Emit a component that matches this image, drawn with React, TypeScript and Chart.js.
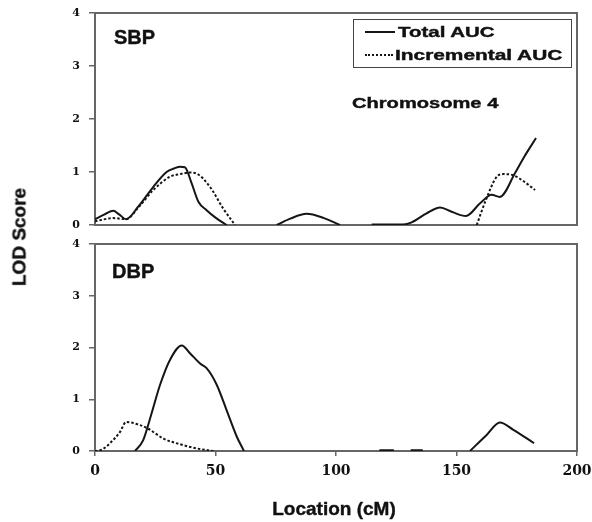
import React, { useEffect, useRef } from "react";
import { Chart, registerables } from "chart.js";

Chart.register(...registerables);

// ---- data: LOD score along chromosome 4 (location in cM) ----
// SBP panel
const sbpTotalCM = [0, 4, 7.6, 10, 12.9, 18, 24.2, 29.7, 33, 35.3, 37.3, 40, 42.9, 46.3, 50, 54.6, 64, 75.4, 81, 87.8, 95, 101.7, 108, 114.8, 127.9, 131.4, 137.6, 143.2, 148, 153.9, 159.8, 164.6, 168, 174.3, 178, 183];
const sbpTotalLOD = [0.11, 0.2, 0.27, 0.2, 0.11, 0.35, 0.72, 1.0, 1.07, 1.1, 1.09, 0.8, 0.44, 0.28, 0.14, 0, null, 0, 0.12, 0.21, 0.13, 0, null, 0.01, 0.01, 0.05, 0.22, 0.33, 0.25, 0.17, 0.41, 0.57, 0.53, 0.98, 1.28, 1.64];
const sbpIncrCM = [0, 7.6, 12.9, 18, 24.2, 31.1, 35.3, 39.4, 42.2, 47.7, 53.2, 58.1, 100, 158.4, 162, 166.7, 169.4, 173.5, 178, 182.6];
const sbpIncrLOD = [0.07, 0.13, 0.11, 0.33, 0.66, 0.91, 0.96, 0.99, 0.97, 0.72, 0.31, 0, null, 0, 0.45, 0.91, 0.96, 0.94, 0.82, 0.66];

// DBP panel
const dbpTotalCM = [16.6, 20, 23.5, 27, 31.1, 36, 39.4, 43.6, 46.3, 50.5, 54.6, 58.8, 61.8, 90, 118, 124, 128, 131, 136, 146, 155.6, 162.5, 168, 173.6, 182.2];
const dbpTotalLOD = [0, 0.21, 0.73, 1.28, 1.76, 2.04, 1.89, 1.69, 1.6, 1.28, 0.79, 0.28, 0, null, 0.015, 0.015, null, 0.015, 0.015, null, 0, 0.31, 0.55, 0.41, 0.15];
const dbpIncrCM = [0, 3, 6.2, 10.4, 12.9, 18.7, 22.1, 28.4, 35.3, 42.2, 49.1];
const dbpIncrLOD = [0, 0.03, 0.15, 0.37, 0.56, 0.5, 0.43, 0.24, 0.13, 0.05, 0];

// axes
const lodTicks = [0, 1, 2, 3, 4];
const cmTicks = [0, 50, 100, 150, 200];

const seriesNames = ["Total AUC", "Incremental AUC"];

// ---- styling ----
const AXIS = "#666";
const INK = "#151515";
const SANS = "'Liberation Sans', Arial, sans-serif";
const SERIF = "'DejaVu Serif', 'Liberation Serif', serif";

const toPoints = (xs: number[], ys: (number | null)[]) =>
  xs.map((x, i) => ({ x, y: ys[i] }));

// box around the plotting area
const framePlugin = {
  id: "frame",
  beforeDatasetsDraw(chart: any) {
    const { ctx, chartArea: a } = chart;
    ctx.save();
    ctx.strokeStyle = AXIS;
    ctx.lineWidth = 2;
    ctx.strokeRect(a.left, a.top, a.right - a.left, a.bottom - a.top);
    ctx.restore();
  },
};

// let the layout padding alone decide where the plot area sits
const noLabelPadding = (s: any) => {
  s.paddingTop = 0;
  s.paddingBottom = 0;
  s.paddingLeft = 0;
  s.paddingRight = 0;
};

type PanelProps = {
  top: number;
  height: number;
  padTop: number;
  padBottom: number;
  showX: boolean;
  xAxisHeight: number;
  total: { x: number; y: number | null }[];
  incr: { x: number; y: number | null }[];
};

function Panel(p: PanelProps) {
  const ref = useRef<HTMLCanvasElement | null>(null);
  useEffect(() => {
    if (!ref.current) return;
    const line = (label: string, data: any[], dashed: boolean) => ({
      label,
      data,
      borderColor: INK,
      borderWidth: 2,
      borderDash: dashed ? [2.5, 2] : [],
      pointRadius: 0,
      fill: false,
      spanGaps: false,
      cubicInterpolationMode: "monotone" as const,
    });
    const chart = new Chart(ref.current, {
      type: "line",
      data: {
        datasets: [
          line(seriesNames[0], p.total, false),
          line(seriesNames[1], p.incr, true),
        ],
      },
      options: {
        responsive: false,
        animation: false,
        devicePixelRatio: 1,
        layout: { padding: { top: p.padTop, right: 15, bottom: p.padBottom, left: 0 } },
        plugins: { legend: { display: false }, tooltip: { enabled: false } },
        scales: {
          x: {
            type: "linear",
            display: p.showX,
            min: cmTicks[0],
            max: cmTicks[cmTicks.length - 1],
            afterBuildTicks: (s: any) => {
              s.ticks = cmTicks.map((v) => ({ value: v }));
            },
            afterFit: (s: any) => {
              s.height = p.xAxisHeight;
              noLabelPadding(s);
            },
            ticks: {
              color: "#111",
              font: { family: SERIF, size: 14, weight: "bold" },
              padding: 7,
              maxRotation: 0,
            },
            grid: { drawOnChartArea: false, drawTicks: true, tickLength: 5, color: AXIS, lineWidth: 1.5 },
            border: { display: true, color: AXIS, width: 2 },
          },
          y: {
            type: "linear",
            min: lodTicks[0],
            max: lodTicks[lodTicks.length - 1],
            afterBuildTicks: (s: any) => {
              s.ticks = lodTicks.map((v) => ({ value: v }));
            },
            afterFit: (s: any) => {
              s.width = 95;
              noLabelPadding(s);
            },
            ticks: {
              color: "#111",
              font: { family: SERIF, size: 11, weight: "bold" },
              padding: 9,
            },
            grid: { drawOnChartArea: false, drawTicks: true, tickLength: 6, color: AXIS, lineWidth: 1.5 },
            border: { display: true, color: AXIS, width: 2 },
          },
        },
      },
      plugins: [framePlugin],
    });
    return () => chart.destroy();
  }, []);
  return (
    <canvas
      ref={ref}
      width={592}
      height={p.height}
      style={{ position: "absolute", left: 0, top: p.top, width: 592, height: p.height }}
    />
  );
}

function Text(props: {
  left: number;
  top: number;
  size: number;
  sx?: number;
  children: React.ReactNode;
}) {
  return (
    <div
      style={{
        position: "absolute",
        left: props.left,
        top: props.top,
        fontFamily: SANS,
        fontWeight: "bold",
        fontSize: props.size,
        lineHeight: `${props.size}px`,
        whiteSpace: "nowrap",
        color: "#111",
        WebkitTextStroke: "0.4px #111",
        transformOrigin: "0 0",
        transform: `scaleX(${props.sx ?? 1})`,
      }}
    >
      {props.children}
    </div>
  );
}

export default function App() {
  return (
    <div
      style={{
        position: "absolute",
        left: 0,
        top: 0,
        width: 592,
        height: 522,
        background: "#fff",
        overflow: "hidden",
      }}
    >
      <Panel
        top={0}
        height={235}
        padTop={13}
        padBottom={10}
        showX={false}
        xAxisHeight={0}
        total={toPoints(sbpTotalCM, sbpTotalLOD)}
        incr={toPoints(sbpIncrCM, sbpIncrLOD)}
      />
      <Panel
        top={235}
        height={287}
        padTop={9}
        padBottom={0}
        showX={true}
        xAxisHeight={71}
        total={toPoints(dbpTotalCM, dbpTotalLOD)}
        incr={toPoints(dbpIncrCM, dbpIncrLOD)}
      />

      <Text left={114} top={26.7} size={20}>SBP</Text>
      <Text left={112} top={260.7} size={20}>DBP</Text>
      <Text left={351.5} top={94.7} size={15} sx={1.34}>Chromosome 4</Text>

      {/* legend */}
      <div
        style={{
          position: "absolute",
          left: 353,
          top: 18.5,
          width: 219,
          height: 49,
          border: "1.5px solid #444",
          boxSizing: "border-box",
        }}
      />
      <div style={{ position: "absolute", left: 365, top: 30.7, width: 30, borderTop: `2px solid ${INK}` }} />
      <div style={{ position: "absolute", left: 365, top: 54, width: 28, borderTop: `2px dotted ${INK}` }} />
      <Text left={398} top={24.9} size={14} sx={1.46}>{seriesNames[0]}</Text>
      <Text left={395} top={48.2} size={14} sx={1.49}>{seriesNames[1]}</Text>

      {/* axis titles */}
      <div
        style={{
          position: "absolute",
          left: 19,
          top: 237,
          fontFamily: SANS,
          fontWeight: "bold",
          fontSize: 19,
          lineHeight: "19px",
          whiteSpace: "nowrap",
          color: "#111",
          WebkitTextStroke: "0.4px #111",
          transform: "translate(-50%, -50%) rotate(-90deg)",
        }}
      >
        LOD Score
      </div>
      <div
        style={{
          position: "absolute",
          left: 334,
          top: 499.2,
          fontFamily: SANS,
          fontWeight: "bold",
          fontSize: 19,
          lineHeight: "19px",
          whiteSpace: "nowrap",
          color: "#111",
          WebkitTextStroke: "0.4px #111",
          transform: "translateX(-50%)",
        }}
      >
        Location (cM)
      </div>
    </div>
  );
}
